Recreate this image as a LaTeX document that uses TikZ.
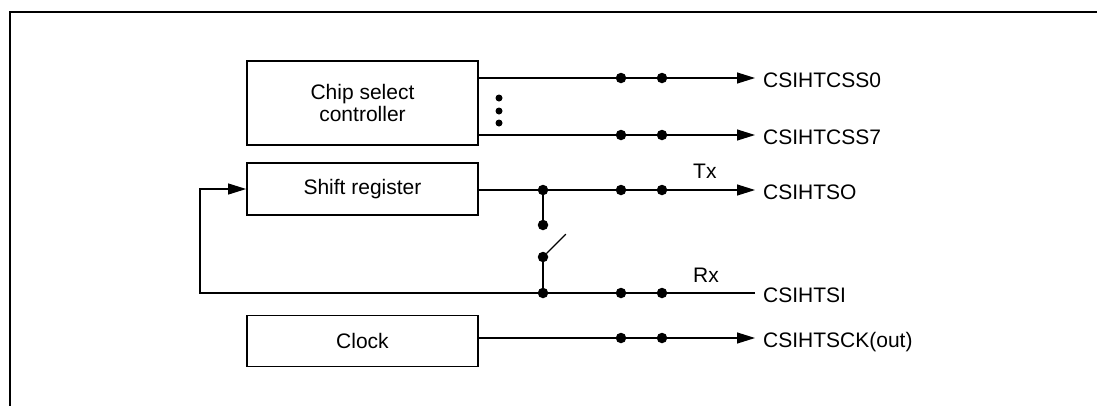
\documentclass[tikz,border=0pt]{standalone}
\usepackage{fontspec}
\setmainfont{Liberation Sans}
\usetikzlibrary{arrows.meta,positioning,calc}

\begin{document}
\begin{tikzpicture}[x=1pt, y=-1pt,
    font=\fontsize{21}{22.5}\selectfont,
    blk/.style={draw, line width=1.8pt, minimum width=231pt, align=center, inner sep=0pt},
    pin/.style={anchor=west, inner xsep=8pt, inner ysep=0pt, text height=19pt, text depth=0pt},
    wire/.style={line width=1.2pt},
    arr/.style={wire, -{Triangle[length=18pt, width=11pt]}},
    dot/.style={circle, fill, inner sep=0pt, minimum size=10.5pt},
    sdot/.style={circle, fill, inner sep=0pt, minimum size=7pt}
  ]
    \useasboundingbox (0,0) rectangle (1097,405);
    \draw[line width=2.6pt] (10,406) -- (10,12) -- (1098,12);

    % blocks
    \node[blk, minimum height=84pt] (csc) at (362.5,103) {Chip select\\controller};
    \node[blk, minimum height=52pt] (shreg) at (362.5,189) {Shift register};
    \node[blk, minimum height=51pt] (clk) at (362.5,341) {Clock};

    % pins
    \node[pin] (cs0) at (755,78) {CSIHTCSS0};
    \node[pin] (cs7) at (755,135) {CSIHTCSS7};
    \node[pin] (so) at (755,190) {CSIHTSO};
    \node[pin] (si) at (755,293) {CSIHTSI};
    \node[pin] (sck) at (755,338) {CSIHTSCK(out)};

    \draw[arr] (csc.east |- cs0.west) -- (cs0.west);
    \draw[arr] (csc.east |- cs7.west) -- (cs7.west);
    \draw[arr] (shreg.east |- so.west) -- (so.west);
    \draw[arr] (clk.east |- sck.west) -- (sck.west);

    \node[sdot] at (499,98) {};
    \node[sdot] at (499,111) {};
    \node[sdot] at (499,123) {};

    % Tx / Rx switch
    \coordinate (fb) at (200,293);
    \node[dot] (jt) at (543,190) {};
    \node[dot] (sw1) at (543,225) {};
    \node[dot] (sw2) at (543,257) {};
    \node[dot] (jr) at (543,293) {};
    \draw[wire] (jt) -- (sw1);
    \draw[wire] (sw2) -- (jr);
    \draw[wire] (sw2.north east) -- ++(19,-19);
    \draw[arr] (si.west) -- (fb) |- (shreg.west);

    \node[anchor=base west, inner sep=0pt] (tx) at (693,178) {Tx};
    \node[anchor=base west, inner sep=0pt] (rx) at (693,282) {Rx};

    \foreach \y in {78,135,190,293,338}{
      \node[dot] at (621,\y) {};
      \node[dot] at (662,\y) {};
    }
  \end{tikzpicture}
\end{document}
